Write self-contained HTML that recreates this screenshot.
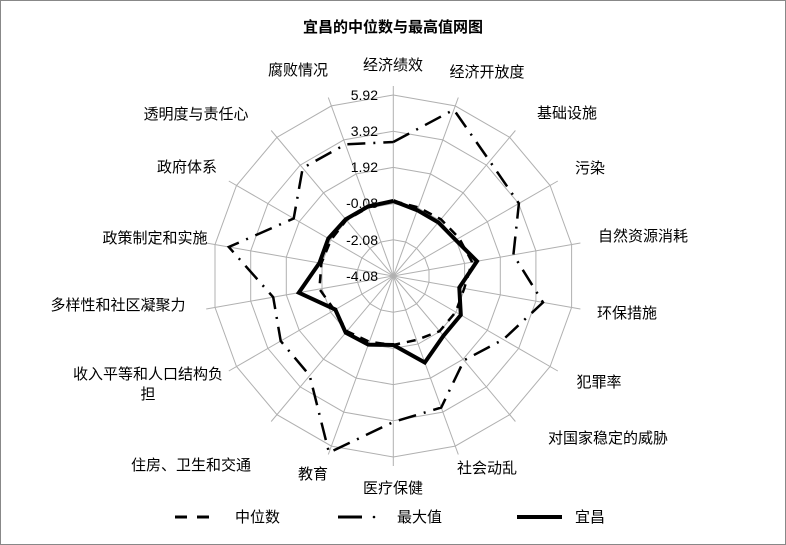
<!DOCTYPE html>
<html><head><meta charset="utf-8"><style>
body{margin:0;background:#fff;}
svg{display:block;font-family:"Liberation Sans","Noto Sans CJK SC",sans-serif;}
</style></head><body>
<svg id="s" width="786" height="545" viewBox="0 0 786 545" xmlns="http://www.w3.org/2000/svg">
<rect x="0.5" y="0.5" width="785" height="544" fill="#fff" stroke="#888"/>
<g id="grid" stroke="#b0b0b0" stroke-width="1" fill="none"></g>
<g id="series" fill="none" stroke="#000" stroke-linejoin="miter"></g>
<text x="393" y="32" text-anchor="middle" font-size="15" font-weight="bold">宜昌的中位数与最高值网图</text>
<g font-size="14" text-anchor="end" fill="#000">
<text x="378" y="100">5.92</text>
<text x="378" y="136">3.92</text>
<text x="378" y="172">1.92</text>
<text x="378" y="208">-0.08</text>
<text x="378" y="245">-2.08</text>
<text x="378" y="281">-4.08</text>
</g>
<g font-size="15" text-anchor="middle" fill="#000">
<text x="393" y="70">经济绩效</text>
<text x="487" y="77">经济开放度</text>
<text x="567" y="118">基础设施</text>
<text x="590" y="173">污染</text>
<text x="643" y="241">自然资源消耗</text>
<text x="627" y="318">环保措施</text>
<text x="599" y="387">犯罪率</text>
<text x="608" y="443">对国家稳定的威胁</text>
<text x="487" y="473">社会动乱</text>
<text x="393" y="493">医疗保健</text>
<text x="313" y="479">教育</text>
<text x="191" y="470">住房、卫生和交通</text>
<text x="148" y="379">收入平等和人口结构负</text>
<text x="148" y="399">担</text>
<text x="118" y="310">多样性和社区凝聚力</text>
<text x="155" y="243">政策制定和实施</text>
<text x="187" y="172">政府体系</text>
<text x="196" y="119">透明度与责任心</text>
<text x="298" y="75">腐败情况</text>
</g>
<g font-size="15" fill="#000">
<line x1="175" y1="517" x2="212" y2="517" stroke="#000" stroke-width="3" stroke-dasharray="12,10"/>
<text x="235" y="522">中位数</text>
<path d="M338 517 H362" stroke="#000" stroke-width="3"/>
<circle cx="374" cy="517" r="1.3" fill="#000"/>
<text x="397" y="522">最大值</text>
<line x1="517" y1="517" x2="562" y2="517" stroke="#000" stroke-width="4"/>
<text x="575" y="522">宜昌</text>
</g>
</svg>
<script>
var cx=393.3,cy=276,NS="http://www.w3.org/2000/svg";
function pt(r,k){var a=k*20*Math.PI/180;return (cx+r*Math.sin(a)).toFixed(1)+","+(cy-r*Math.cos(a)).toFixed(1);}
var g=document.getElementById("grid"),s=document.getElementById("series");
function el(p,attrs){var e=document.createElementNS(NS,"polyline");for(var k in attrs)e.setAttribute(k,attrs[k]);p.appendChild(e);return e;}
for(var i=1;i<=5;i++){var r=i*36.2,p=[];for(var k=0;k<=18;k++)p.push(pt(r,k%18));el(g,{points:p.join(" ")});}
for(var k=0;k<18;k++){el(g,{points:pt(0,k)+" "+pt(190,k)});}
var med=[75,73,74,76,80,72,72,72,68,69,70,72,68,75,73,72,73,73];
var mx=[134,177,150,145,122,152,127,110,140,146,188,130,130,122,167,115,141,140];
var yc=[75,70,70,72,85,67,78,78,92,69,73,74,67,96,75,75,74,74];
function poly(d){var p=[];for(var k=0;k<=18;k++)p.push(pt(d[k%18],k%18));return p.join(" ");}
el(s,{points:poly(med),"stroke-width":"2.5","stroke-dasharray":"9,7"});
el(s,{points:poly(mx),"stroke-width":"2.5","stroke-dasharray":"18,8,2,8"});
el(s,{points:poly(yc),"stroke-width":"4"});
</script>
</body></html>
